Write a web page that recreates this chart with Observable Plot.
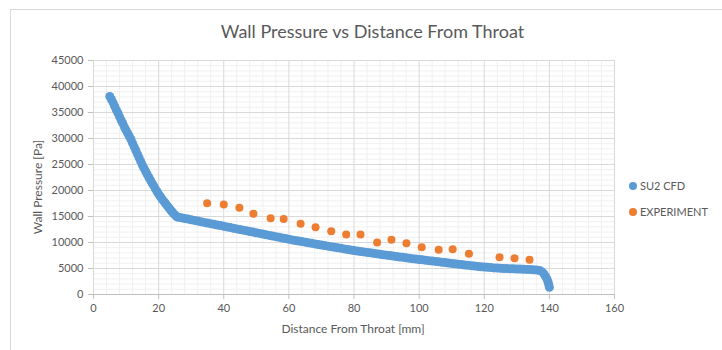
<!DOCTYPE html>
<html>
<head>
<meta charset="utf-8">
<script src="https://cdn.jsdelivr.net/npm/d3@7"></script>
<script src="https://cdn.jsdelivr.net/npm/@observablehq/plot@0.6"></script>
<style>
  html, body { margin: 0; padding: 0; background: #ffffff; }
  #wrap { position: relative; width: 722px; height: 350px; overflow: hidden; font-family: Lato, "Open Sans", sans-serif; color: #595959; }
  #frame { position: absolute; left: 10px; top: 9px; width: 760px; height: 400px; border: 1px solid #d9d9d9; box-sizing: border-box; }
  #title { position: absolute; left: 0; width: 745px; top: 20px; text-align: center; font-size: 18px; color: #595959; }
  #ylab { position: absolute; left: 37px; top: 187px; transform: translate(-50%, -50%) rotate(-90deg); font-size: 12px; white-space: nowrap; }
  #xlab { position: absolute; left: 353px; top: 328px; transform: translate(-50%, -50%); font-size: 12px; white-space: nowrap; }
  .leg { position: absolute; left: 629px; font-size: 11px; white-space: nowrap; display: flex; align-items: center; }
  .leg span.m { display: inline-block; width: 8px; height: 8px; border-radius: 50%; margin-right: 3px; }
  #chart { position: absolute; left: 0; top: 0; }
</style>
</head>
<body>
<div id="wrap">
  <div id="frame"></div>
  <div id="chart"></div>
  <div id="title">Wall Pressure vs Distance From Throat</div>
  <div id="ylab">Wall Pressure [Pa]</div>
  <div id="xlab">Distance From Throat [mm]</div>
  <div class="leg" style="top:179px"><span class="m" style="background:#5b9bd5"></span>SU2 CFD</div>
  <div class="leg" style="top:205px"><span class="m" style="background:#ed7d31"></span>EXPERIMENT</div>
</div>
<script>
// SU2 CFD series (distance mm, pressure Pa)
const cfdX = [
  5.0, 5.5, 6.0, 6.5, 7.0, 7.5, 8.0, 8.5, 9.0, 9.5,
  10.0, 10.5, 11.0, 11.5, 12.0, 12.5, 13.0, 13.5, 14.0, 14.5,
  15.0, 15.5, 16.0, 16.5, 17.0, 17.5, 18.0, 18.5, 19.0, 19.5,
  20.0, 20.5, 21.0, 21.5, 22.0, 22.5, 23.0, 23.5, 24.0, 24.5,
  25.0, 25.5, 26.0, 27, 28, 29, 30, 31, 32, 33, 34, 35, 36, 37, 38, 39,
  40, 41, 42, 43, 44, 45, 46, 47, 48, 49, 50, 51, 52, 53, 54, 55, 56, 57, 58, 59,
  60, 61, 62, 63, 64, 65, 66, 67, 68, 69, 70, 71, 72, 73, 74, 75, 76, 77, 78, 79,
  80, 81, 82, 83, 84, 85, 86, 87, 88, 89, 90, 91, 92, 93, 94, 95, 96, 97, 98, 99,
  100, 101, 102, 103, 104, 105, 106, 107, 108, 109, 110, 111, 112, 113, 114, 115, 116, 117, 118, 119,
  120, 121, 122, 123, 124, 125, 126, 127, 128, 129, 130, 131, 132, 133, 134, 135, 136, 137,
  137.8, 138.4, 138.9, 139.3, 139.6, 139.8, 140.0
];
const cfdY = [
  38100, 37500, 36900, 36200, 35500, 34900, 34200, 33500, 32900, 32200,
  31600, 31000, 30400, 29800, 29100, 28400, 27700, 27000, 26300, 25600,
  24900, 24300, 23700, 23100, 22500, 22000, 21400, 20900, 20300, 19800,
  19300, 18850, 18400, 18000, 17600, 17200, 16800, 16400, 16000, 15650,
  15300, 15000, 14850, 14750, 14620, 14500, 14370, 14250, 14120, 14000, 13870, 13750, 13620, 13500, 13370, 13250,
  13120, 13000, 12870, 12750, 12620, 12500, 12370, 12250, 12120, 12000, 11870, 11750, 11620, 11500, 11370, 11250, 11120, 11000, 10870, 10750,
  10620, 10500, 10390, 10280, 10170, 10060, 9950, 9840, 9730, 9620, 9510, 9400, 9300, 9190, 9090, 8980, 8880, 8770, 8670, 8560,
  8460, 8370, 8280, 8190, 8100, 8010, 7920, 7830, 7740, 7650, 7560, 7480, 7390, 7310, 7220, 7140, 7050, 6970, 6890, 6810,
  6730, 6660, 6580, 6510, 6430, 6360, 6280, 6210, 6130, 6060, 5980, 5910, 5830, 5760, 5680, 5610, 5540, 5470, 5400, 5340,
  5280, 5220, 5170, 5120, 5080, 5040, 5010, 4980, 4950, 4930, 4900, 4880, 4850, 4830, 4800, 4770, 4720, 4620,
  4350, 3900, 3400, 2900, 2400, 1900, 1400
];
// EXPERIMENT series
const expX = [34.9, 40.0, 44.8, 49.1, 54.4, 58.4, 63.6, 68.2, 73.0, 77.6, 82.0, 87.1, 91.5, 96.1, 100.8, 106.0, 110.3, 115.3, 124.7, 129.3, 133.9];
const expY = [17560, 17300, 16670, 15510, 14680, 14500, 13590, 12950, 12180, 11540, 11540, 10000, 10510, 9860, 9100, 8590, 8720, 7830, 7180, 6990, 6670];
// tick values
const xTicks = [0, 20, 40, 60, 80, 100, 120, 140, 160];
const yTicks = [0, 5000, 10000, 15000, 20000, 25000, 30000, 35000, 40000, 45000];
const xMinor = d3.range(0, 161, 4).filter(v => v % 20 !== 0);
const yMinor = d3.range(0, 45001, 1000).filter(v => v % 5000 !== 0);

const cfd = cfdX.map((x, i) => ({x, y: cfdY[i]}));
const exp = expX.map((x, i) => ({x, y: expY[i]}));

const chart = Plot.plot({
  width: 722,
  height: 350,
  marginLeft: 93,
  marginRight: 108,
  marginTop: 60,
  marginBottom: 56,
  style: {fontFamily: "Lato, 'Open Sans', sans-serif", fontSize: "11px", color: "#595959", background: "transparent"},
  x: {domain: [0, 160]},
  y: {domain: [0, 45000]},
  marks: [
    Plot.gridX(xMinor, {stroke: "#f0f0f0", strokeOpacity: 1}),
    Plot.gridY(yMinor, {stroke: "#f0f0f0", strokeOpacity: 1}),
    Plot.gridX(xTicks, {stroke: "#d9d9d9", strokeOpacity: 1}),
    Plot.gridY(yTicks, {stroke: "#d9d9d9", strokeOpacity: 1}),
    Plot.ruleY([0], {stroke: "#bfbfbf"}),
    Plot.axisX({ticks: xTicks, tickSize: 5, tickPadding: 5, tickFormat: d3.format("d"), label: null, stroke: "#bfbfbf", fill: "#595959", fontSize: 11}),
    Plot.axisY({ticks: yTicks, tickSize: 5, tickPadding: 5, tickFormat: d3.format("d"), label: null, stroke: "#bfbfbf", fill: "#595959", fontSize: 11}),
    Plot.dot(cfd, {x: "x", y: "y", r: 4.5, fill: "#5b9bd5", stroke: "none"}),
    Plot.dot(exp, {x: "x", y: "y", r: 4, fill: "#ed7d31", stroke: "none"})
  ]
});
document.getElementById("chart").appendChild(chart);
</script>
</body>
</html>
